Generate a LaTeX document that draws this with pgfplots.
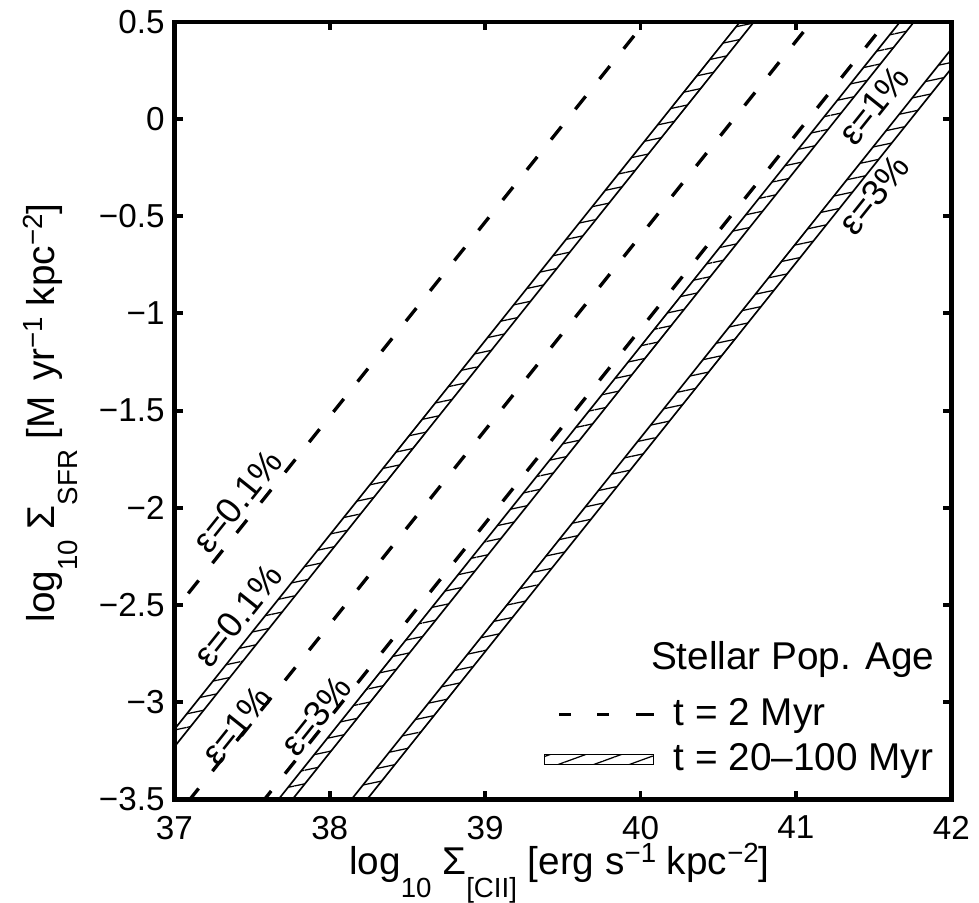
\documentclass[border=0pt]{standalone}
\usepackage{fontspec}
\setmainfont{Liberation Sans}
\usepackage{pgfplots}
\pgfplotsset{compat=1.18}
\usepgfplotslibrary{fillbetween}
\usetikzlibrary{patterns.meta,calc}

% MATLAB-like sub/superscripts
\newcommand\sub[1]{\raisebox{-8.3pt}{\fontsize{10}{12}\selectfont #1}}
\newcommand\sups[1]{\raisebox{4.5pt}{\fontsize{10}{12}\selectfont #1}}

\tikzset{
  hatch/.style={pattern={Lines[angle=12,distance=4.8pt,line width=0.45pt]}},
  leghatch/.style={pattern={Lines[angle=20,distance=4.4pt,line width=0.45pt]}},
  dashline/.style={line width=1.2pt,dash pattern=on 6pt off 8pt},
  edge/.style={line width=0.6pt},
  eps/.style={rotate=51.3,font=\fontsize{13}{15}\selectfont},
}

\begin{document}
\begin{tikzpicture}[font=\fontsize{14}{16}\selectfont]
\begin{axis}[
  scale only axis, width=280.8pt, height=281pt,
  xmin=37, xmax=42, ymin=-3.5, ymax=0.5,
  xtick={37,38,39,40,41,42}, xticklabels={37,38,39,40,41,42},
  ytick={-3.5,-3,-2.5,-2,-1.5,-1,-0.5,0,0.5},
  yticklabels={−3.5,−3,−2.5,−2,−1.5,−1,−0.5,0,0.5},
  tick align=inside, major tick length=3pt,
  axis line style={line width=1.6pt},
  every tick/.style={line width=1.4pt,black},
  axis on top,
  ticklabel style={font=\fontsize{12}{14}\selectfont},
  xticklabel style={yshift=-2.5pt},
  label style={font=\fontsize{14}{16}\selectfont},
  xlabel={log\sub{10} Σ\sub{[CII]} [erg s\sups{−1} kpc\sups{−2}]},
  ylabel={log\sub{10} Σ\sub{SFR} [M\hspace{0.4em}yr\sups{−1} kpc\sups{−2}]},
  xlabel style={overlay, at={(axis description cs:0.4955,0)}, anchor=north,
    inner sep=0pt, yshift=-15.5pt},
  ylabel style={at={(axis description cs:-0.1595,0.497)}, anchor=center},
  legend style={at={(rel axis cs:0.4745,0.027)}, anchor=south west,
    draw=none, fill=none, inner sep=0pt, row sep=3pt,
    nodes={inner sep=1pt}, font=\fontsize{14}{16}\selectfont},
  legend cell align=left,
]
% legend images first
\addlegendimage{legend image code/.code={
  \draw[line width=1.2pt] (5.4pt,0pt) -- (9.7pt,0pt) (19.1pt,0pt) -- (23.4pt,0pt) (33.1pt,0pt) -- (39.6pt,0pt);
  \path[draw=none,fill=none] (0pt,0pt) -- (45.8pt,0pt);}}
\addlegendentry{t = 2 Myr}
\addlegendimage{legend image code/.code={
  \draw[line width=0.5pt,leghatch] (0pt,-1.8pt) rectangle (39.6pt,1.8pt);
  \path[draw=none,fill=none] (0pt,0pt) -- (45.8pt,0pt);}}
\addlegendentry{t = 20–100 Myr}

% t = 2 Myr, dashed
\addplot[dashline, forget plot] coordinates {(36,-3.53) (43,3.47)};  % 0.1%
\addplot[dashline, forget plot] coordinates {(36,-4.60) (43,2.40)};  % 1%
\addplot[dashline, forget plot] coordinates {(36,-5.08) (43,1.92)};  % 3%

% t = 20-100 Myr, hatched bands
\addplot[edge, name path=a1, forget plot] coordinates {(36,-4.14) (43,2.86)};
\addplot[edge, name path=b1, forget plot] coordinates {(36,-4.23) (43,2.77)};
\addplot[hatch, draw=none, forget plot] fill between[of=a1 and b1];

\addplot[edge, name path=a2, forget plot] coordinates {(36,-5.17) (43,1.83)};
\addplot[edge, name path=b2, forget plot] coordinates {(36,-5.26) (43,1.74)};
\addplot[hatch, draw=none, forget plot] fill between[of=a2 and b2];

\addplot[edge, name path=a3, forget plot] coordinates {(36,-5.64) (43,1.36)};
\addplot[edge, name path=b3, forget plot] coordinates {(36,-5.74) (43,1.26)};
\addplot[hatch, draw=none, forget plot] fill between[of=a3 and b3];

% labels
\node[eps] at (axis cs:37.405,-1.965) {ε=0.1\%};
\node[eps] at (axis cs:37.41,-2.555) {ε=0.1\%};
\node[eps] at (axis cs:37.40,-3.12) {ε=1\%};
\node[eps] at (axis cs:37.91,-3.07) {ε=3\%};
\node[eps] at (axis cs:41.50,0.07) {ε=1\%};
\node[eps] at (axis cs:41.50,-0.39) {ε=3\%};

\node[anchor=east] at (rel axis cs:0.991,0.18) {Stellar Pop. Age};
\end{axis}
\path ($(current axis.south west)+(-63pt,-37.4pt)$) rectangle ($(current axis.north east)+(8.6pt,7.9pt)$);
\end{tikzpicture}
\end{document}
